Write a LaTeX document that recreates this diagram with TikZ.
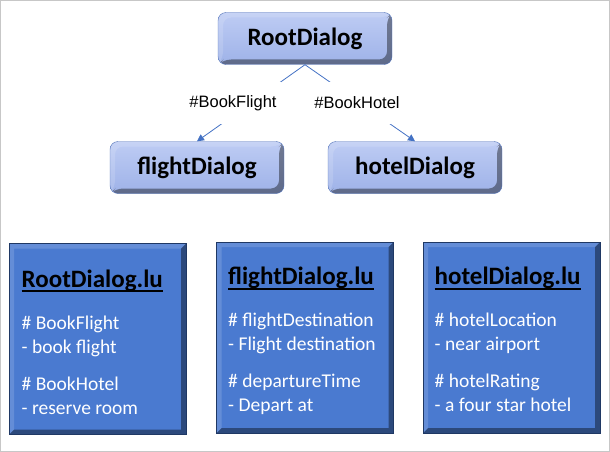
\documentclass[tikz,border=0pt]{standalone}
\usepackage{fontspec}
\setmainfont{Carlito}
\newfontfamily\arialfont{Liberation Sans}
\usetikzlibrary{arrows.meta}

\definecolor{dlgtop}{RGB}{190,204,244}
\definecolor{dlgbot}{RGB}{158,178,232}
\definecolor{dlgedge}{RGB}{84,116,184}
\definecolor{lufill}{RGB}{74,122,208}
\definecolor{luedge}{RGB}{31,56,100}
\definecolor{linkblue}{RGB}{68,114,196}

\newcommand\luline[1]{\setbox0\hbox{#1}\rlap{\usebox0}\rule[-5pt]{\wd0}{1.8pt}}

\tikzset{
  bevel/.style={path picture={
    \fill[black,opacity=.4] (path picture bounding box.south west) -- (path picture bounding box.south east)
      -- (path picture bounding box.north east) -- ([shift={(-#1,-#1)}]path picture bounding box.north east)
      -- ([shift={(-#1,#1)}]path picture bounding box.south east) -- ([shift={(#1,#1)}]path picture bounding box.south west) -- cycle;
    \fill[white,opacity=.15] (path picture bounding box.south west) -- (path picture bounding box.north west)
      -- (path picture bounding box.north east) -- ([shift={(-#1,-#1)}]path picture bounding box.north east)
      -- ([shift={(#1,-#1)}]path picture bounding box.north west) -- ([shift={(#1,#1)}]path picture bounding box.south west) -- cycle;
  }},
  dialog/.style={draw=dlgedge, rounded corners=8pt, top color=dlgtop, bottom color=dlgbot,
    minimum width=174pt, minimum height=52pt, font=\fontsize{25}{30}\selectfont\bfseries, bevel=5pt},
  lubox/.style={draw=luedge, fill=lufill, line width=1pt, minimum width=177pt, minimum height=191pt, bevel=5pt},
  lutitle/.style={anchor=base west, inner sep=0pt, font=\fontsize{25}{30}\selectfont\bfseries},
  lubody/.style={anchor=north west, align=left, inner sep=0pt, text=white, font=\fontsize{19.5}{24}\selectfont},
  link/.style={draw=linkblue, line width=0.8pt, -{Triangle[length=7pt,width=7pt]}},
  linklabel/.style={fill=white, inner sep=0pt, minimum width=96pt, minimum height=42pt,
    font=\arialfont\fontsize{16.5}{20}\selectfont},
}

\begin{document}
\begin{tikzpicture}[x=1pt,y=-1pt]
\useasboundingbox (0,0) rectangle (610,452);
\draw[black!22] (0.5,0.5) rectangle (609.5,451.5);

% dialog tree
\node[dialog] (root) at (305,38.5) {RootDialog};
\node[dialog] (flight) at (197,167.5) {flightDialog};
\node[dialog] (hotel) at (415,167.5) {hotelDialog};

\draw[link] (root.south) -- (flight.north);
\draw[link] (root.south) -- (hotel.north);
\node[linklabel] (bookflight) at (233,103) {\#BookFlight};
\node[linklabel] (bookhotel) at (357,103) {\#BookHotel};

% lu files
\node[lubox] (rootlu) at (97.5,339) {};
\node[lubox] (flightlu) at (305,337.5) {};
\node[lubox] (hotellu) at (511.5,337.5) {};

\node[lutitle] (rootlutitle) at ([shift={(13,44)}]rootlu.north west) {\luline{RootDialog.lu}};
\node[lubody] (rootlubody) at ([shift={(13,72.5)}]rootlu.north west)
  {\# BookFlight\\- book flight\\[13pt]\# BookHotel\\- reserve room};

\node[lutitle] (flightlutitle) at ([shift={(12,43)}]flightlu.north west) {\luline{flightDialog.lu}};
\node[lubody] (flightlubody) at ([shift={(12,71.5)}]flightlu.north west)
  {\# flightDestination\\- Flight destination\\[13pt]\# departureTime\\- Depart at};

\node[lutitle] (hotellutitle) at ([shift={(12,43)}]hotellu.north west) {\luline{hotelDialog.lu}};
\node[lubody] (hotellubody) at ([shift={(12,71.5)}]hotellu.north west)
  {\# hotelLocation\\- near airport\\[13pt]\# hotelRating\\- a four star hotel};
\end{tikzpicture}
\end{document}
